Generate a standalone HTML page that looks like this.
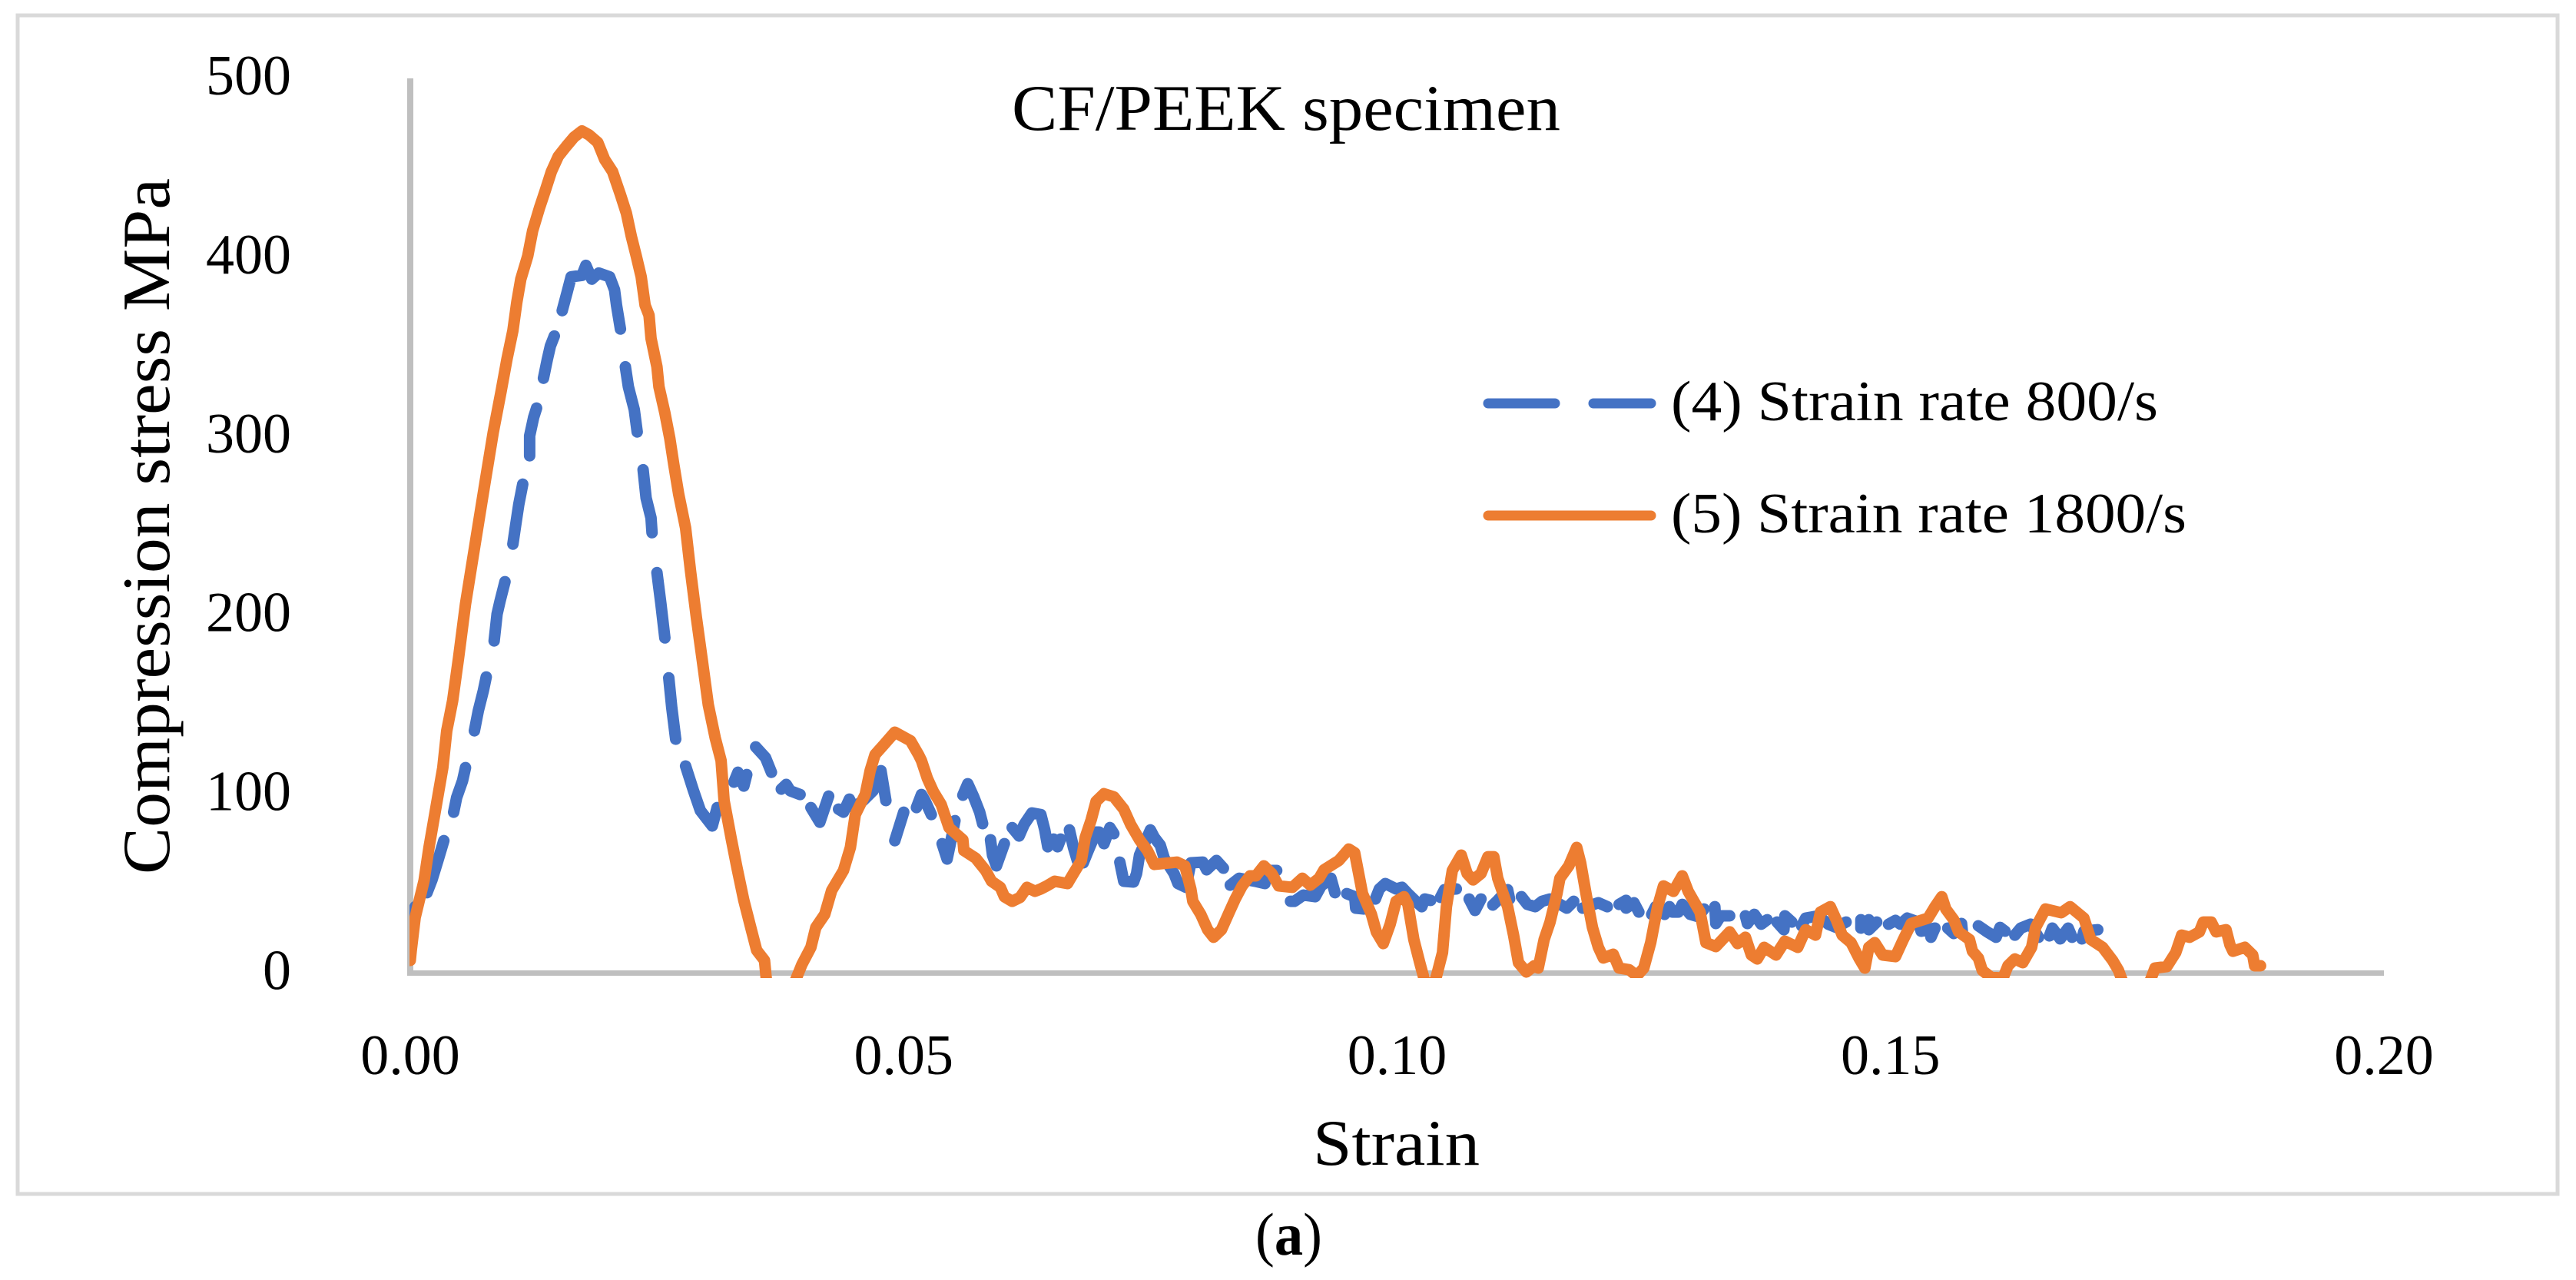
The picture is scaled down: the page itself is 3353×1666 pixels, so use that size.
<!DOCTYPE html>
<html lang="en">
<head>
<meta charset="utf-8">
<title>CF/PEEK specimen compression stress vs strain</title>
<style>
html,body{margin:0;padding:0;background:#fff}
svg{display:block}
text{font-family:"Liberation Serif",serif;fill:#000}
</style>
</head>
<body>
<svg id="chart" xmlns="http://www.w3.org/2000/svg" width="3353" height="1666" viewBox="0 0 3353 1666">
  <rect x="23" y="20" width="3306" height="1534" fill="#fff" stroke="#D9D9D9" stroke-width="5"/>
  <defs><clipPath id="plot-clip"><rect x="533" y="0" width="2700" height="1273"/></clipPath></defs>
  <g id="axes"></g>
  <g id="series" clip-path="url(#plot-clip)"></g>
  <text x="1317" y="169" font-size="85" textLength="714" lengthAdjust="spacingAndGlyphs">CF/PEEK specimen</text>
  <text transform="translate(220,1138) rotate(-90)" font-size="88" textLength="906" lengthAdjust="spacingAndGlyphs">Compression stress MPa</text>
  <text x="1709" y="1516" font-size="85" textLength="217" lengthAdjust="spacingAndGlyphs">Strain</text>
  <g>
    <line x1="1937" y1="525" x2="2149" y2="525" stroke="#4472C4" stroke-width="13" stroke-linecap="round" stroke-dasharray="87 50"/>
    <text x="2175" y="547" font-size="74" textLength="634" lengthAdjust="spacingAndGlyphs">(4) Strain rate 800/s</text>
    <line x1="1937" y1="671" x2="2149" y2="671" stroke="#ED7D31" stroke-width="13" stroke-linecap="round"/>
    <text x="2175" y="693" font-size="74" textLength="671" lengthAdjust="spacingAndGlyphs">(5) Strain rate 1800/s</text>
  </g>
  <text x="1634" y="1633" font-size="78" textLength="87" lengthAdjust="spacingAndGlyphs">(<tspan font-weight="bold">a</tspan>)</text>
</svg>
<script>
const xTicks = [0, 0.05, 0.10, 0.15, 0.20];
const xTickLabels = ["0.00", "0.05", "0.10", "0.15", "0.20"];
const yTicks = [0, 100, 200, 300, 400, 500];
const yTickLabels = ["0", "100", "200", "300", "400", "500"];

// (4) Strain rate 800/s — null entries mark the visible breaks of the dashed line
const strain800 = [0,.0005,null,.0017,.0022,.0028,.0034,null,.0044,.0047,.0053,.0056,null,.0065,.0069,.0074,.0077,null,.0085,.0088,.0091,.0096,null,.0104,.0107,.0110,.0114,null,.0121,.0121,.0125,.0128,null,.0135,.0139,.0142,.0146,null,.0154,.0159,.0163,.0174,.0178,.0184,.0191,.0202,.0207,.0209,.0213,null,.0218,.0221,.0227,.0230,null,.0236,.0239,.0244,.0245,null,.0250,.0254,.0258,null,.0262,.0265,.0269,null,.0279,.0287,.0294,.0306,.0311,null,.0328,.0332,.0338,.0341,null,.0350,.0360,.0366,null,.0376,.0381,.0385,.0395,null,.0406,.0415,.0424,null,.0434,.0439,.0445,.0449,.0459,.0469,.0477,.0482,null,.0491,.0500,null,.0513,.0518,.0522,.0528,null,.0539,.0544,.0547,.0552,null,.0560,.0565,.0571,.0577,.0580,null,.0588,.0590,.0594,.0602,null,.0610,.0617,.0622,.0630,.0639,.0643,.0646,.0652,.0656,.0659,null,.0668,.0672,.0676,.0682,.0687,.0695,.0698,.0703,.0709,.0713,null,.0719,.0723,.0733,.0736,.0739,.0750,.0754,.0760,.0764,.0774,.0778,.0786,.0791,.0803,.0807,.0817,.0824,null,.0831,.0840,.0856,.0866,.0869,.0878,null,.0892,.0896,.0905,.0917,.0923,.0933,.0937,null,.0949,.0957,.0958,.0966,null,.0978,.0982,.0988,.0999,.1005,.1011,.1019,.1025,.1028,.1034,null,.1044,.1048,.1060,null,.1073,.1079,.1085,null,.1097,.1102,.1112,.1114,null,.1126,.1132,.1140,.1147,.1155,.1172,.1179,null,.1188,.1204,.1213,null,.1225,.1232,.1232,.1240,.1245,null,.1258,.1262,.1271,.1276,.1279,.1285,.1289,.1297,.1305,.1311,null,.1322,.1323,.1328,.1337,null,.1353,.1355,.1362,.1369,.1375,null,.1385,.1392,.1393,.1400,null,.1410,.1414,.1427,.1437,.1445,.1455,null,.1470,.1470,.1478,.1478,.1486,null,.1498,.1505,.1510,.1517,.1528,.1531,.1545,.1541,null,.1558,.1564,.1572,.1573,null,.1589,.1598,.1607,.1611,.1616,null,.1626,.1632,.1642,.1650,null,.1661,.1664,.1672,.1680,.1684,null,.1694,.1696,.1710];
const stress800 = [31.1,37.1,null,44.9,52.1,62.9,74.0,null,89.9,98.1,107.5,114.8,null,135.4,146.6,157.7,165.5,null,185.6,200.6,207.9,218.7,null,239.7,250.9,262.0,273.2,null,289.1,300.2,310.5,315.7,null,332.4,343.1,350.4,356.0,null,370.2,380.5,389.1,389.9,395.5,387.8,391.2,389.1,381.8,373.2,359.9,null,338.8,327.7,314.8,302.4,null,281.3,265.5,254.3,246.1,null,223.8,206.2,187.3,null,165.0,148.3,130.7,null,115.7,101.9,90.8,82.2,92.5,null,106.7,112.2,104.5,110.9,null,126.4,120.4,112.2,null,102.8,105.4,101.9,99.8,null,92.5,84.3,98.9,null,91.6,89.9,97.2,92.5,96.4,101.9,113.1,96.4,null,74.0,89.9,null,92.5,99.8,95.9,88.6,null,72.3,63.7,71.5,85.2,null,99.4,105.8,98.5,89.9,83.5,null,74.5,65.9,59.9,72.3,null,81.3,76.6,83.0,89.5,88.6,80.0,70.6,74.9,70.6,74.9,null,80.0,70.2,62.9,61.6,68.5,78.8,78.8,72.3,81.3,77.9,null,62.0,51.3,50.9,55.6,65.9,80.0,75.8,71.5,64.2,55.6,50.0,47.9,61.6,62.0,57.7,62.9,58.6,null,49.1,53.0,51.3,50.0,57.3,57.3,null,40.1,40.1,43.6,42.7,48.7,53.0,44.9,null,44.4,42.7,36.3,35.8,null,41.4,47.0,50.0,47.0,47.9,44.4,40.1,37.1,41.4,40.6,null,42.3,46.6,47.0,null,41.4,35.0,41.4,null,38.0,40.6,46.6,41.4,null,42.7,38.4,37.1,40.1,41.4,36.3,40.1,null,36.3,39.3,37.1,null,38.4,40.6,36.3,39.3,34.1,null,32.8,37.1,32.8,37.1,34.1,34.1,38.4,32.8,31.5,35.8,null,37.1,27.7,32.0,32.0,null,32.0,27.7,32.8,27.3,29.8,null,28.5,24.2,32.0,28.5,null,26.4,30.7,32.0,27.3,25.5,28.5,null,29.8,25.1,29.8,24.2,28.5,null,27.3,29.4,27.3,30.7,28.5,23.4,25.1,20.0,null,25.1,22.1,27.7,22.1,null,26.4,23.0,20.0,25.5,23.4,null,21.2,25.1,27.3,20.0,null,20.8,25.1,19.1,25.1,20.0,null,19.1,23.4,24.2];

// (5) Strain rate 1800/s
const strain1800 = [0,.0001,.0005,.0014,.0019,.0026,.0033,.0037,.0043,.0049,.0056,.0063,.0069,.0076,.0084,.0092,.0098,.0104,.0108,.0112,.0119,.0124,.0131,.0137,.0143,.0150,.0158,.0166,.0174,.0181,.0190,.0197,.0205,.0213,.0219,.0224,.0229,.0234,.0238,.0242,.0244,.0250,.0252,.0258,.0263,.0267,.0272,.0279,.0284,.0290,.0296,.0302,.0309,.0315,.0318,.0325,.0331,.0338,.0345,.0351,.0359,.0361,.0374,.0390,.0397,.0406,.0411,.0420,.0427,.0439,.0446,.0451,.0461,.0466,.0471,.0480,.0491,.0507,.0515,.0518,.0524,.0530,.0538,.0546,.0560,.0561,.0573,.0583,.0589,.0598,.0602,.0610,.0618,.0625,.0633,.0639,.0645,.0653,.0666,.0672,.0680,.0684,.0690,.0695,.0703,.0713,.0723,.0730,.0739,.0747,.0754,.0777,.0785,.0791,.0793,.0801,.0808,.0814,.0822,.0830,.0836,.0843,.0851,.0857,.0865,.0873,.0880,.0894,.0904,.0912,.0921,.0926,.0941,.0951,.0957,.0965,.0974,.0979,.0986,.0993,.0999,.1007,.1011,.1017,.1023,.1028,.1034,.1040,.1046,.1050,.1056,.1065,.1071,.1077,.1085,.1092,.1098,.1102,.1112,.1118,.1123,.1131,.1139,.1143,.1149,.1155,.1162,.1165,.1174,.1182,.1186,.1192,.1198,.1204,.1209,.1219,.1225,.1235,.1243,.1250,.1257,.1264,.1270,.1280,.1289,.1295,.1307,.1313,.1323,.1337,.1345,.1353,.1359,.1365,.1372,.1384,.1393,.1406,.1414,.1424,.1429,.1439,.1445,.1451,.1460,.1468,.1474,.1478,.1484,.1492,.1505,.1513,.1521,.1538,.1545,.1552,.1556,.1564,.1569,.1580,.1583,.1589,.1593,.1602,.1614,.1619,.1626,.1634,.1643,.1647,.1657,.1673,.1682,.1696,.1703,.1715,.1725,.1731,.1735,.1749,.1763,.1768,.1780,.1789,.1795,.1803,.1813,.1817,.1825,.1830,.1840,.1844,.1847,.1859,.1867,.1869,.1875];
const stress1800 = [7.1,12.7,31.1,51.7,70.2,92.5,114.8,135.4,152.2,176.2,206.2,230.3,250.9,274.9,301.9,325.0,343.1,359.0,374.9,387.8,400.7,414.8,427.7,437.6,447.9,456.4,462.0,467.2,470.6,468.5,464.2,454.7,447.9,435.0,424.7,411.8,400.7,389.1,373.2,367.6,354.7,338.8,327.7,313.1,298.9,284.3,267.6,248.7,224.7,198.5,174.5,150.0,131.5,118.7,96.4,75.8,59.0,40.6,25.5,12.7,7.1,-4.5,-14.4,-4.5,4.9,14.4,25.5,32.8,46.1,57.3,70.2,88.6,99.8,113.1,122.1,127.7,134.6,129.8,122.1,118.7,108.8,101.5,94.2,81.3,74.5,68.5,64.2,57.3,51.3,47.9,42.7,40.1,42.3,47.9,45.7,47.0,48.7,51.3,50.0,55.6,62.9,75.8,85.6,95.9,100.2,98.5,91.6,83.0,74.5,68.5,60.7,62.0,59.9,47.0,40.1,32.8,24.2,20.0,24.2,34.1,41.4,48.7,54.3,54.3,59.9,55.6,48.7,47.9,53.0,49.1,53.0,57.7,62.9,69.3,67.2,44.4,32.8,23.0,16.5,27.3,40.1,42.7,38.4,18.7,5.8,-4.5,-10.1,-1.5,11.4,37.1,57.3,65.9,55.6,52.1,55.6,65.0,65.0,53.0,37.1,21.2,5.8,0.6,4.1,2.8,18.7,28.5,44.4,53.0,59.9,70.2,61.6,42.7,25.5,14.4,8.4,10.5,2.8,1.9,-1.5,2.8,17.0,37.1,48.7,45.7,54.3,45.7,34.1,17.0,14.8,23.0,16.5,20.0,10.1,7.9,14.4,10.1,17.8,14.4,24.2,21.2,34.1,37.1,29.8,21.2,17.0,8.4,2.8,14.4,17.0,10.1,9.2,18.7,27.7,30.7,37.1,42.7,35.8,29.8,23.0,18.7,12.2,8.4,1.5,-2.4,-2.8,4.1,7.9,5.8,14.4,25.5,35.8,33.7,37.1,30.7,18.7,14.4,7.1,1.5,-4.5,-14.4,-4.5,2.8,3.6,11.4,21.2,20.0,23.0,28.5,28.5,23.0,24.2,15.7,12.2,14.4,10.1,4.1,4.1];

const SVG_NS = "http://www.w3.org/2000/svg";
const xAt = v => 534 + v * (3103 - 534) / 0.2;
const yAt = v => 1266.5 - v * (1266.5 - 102) / 500;

function linePath(xs, ys) {
  let d = "", pen = false;
  for (let i = 0; i < xs.length; i++) {
    if (xs[i] === null || ys[i] === null) { pen = false; continue; }
    d += (pen ? "L" : "M") + xAt(xs[i]).toFixed(1) + " " + yAt(ys[i]).toFixed(1);
    pen = true;
  }
  return d;
}

const axes = document.getElementById("axes");
const series = document.getElementById("series");

const yAxisLine = document.createElementNS(SVG_NS, "line");


yAxisLine.setAttribute("x1", xAt(0));
yAxisLine.setAttribute("x2", xAt(0));
yAxisLine.setAttribute("y1", yAt(500));
yAxisLine.setAttribute("y2", yAt(0) + 3.5);
yAxisLine.setAttribute("stroke", "#BFBFBF");
yAxisLine.setAttribute("stroke-width", "8");
axes.appendChild(yAxisLine);

const xAxisLine = document.createElementNS(SVG_NS, "line");


xAxisLine.setAttribute("x1", xAt(0) - 4);
xAxisLine.setAttribute("x2", xAt(0.2));
xAxisLine.setAttribute("y1", yAt(0));
xAxisLine.setAttribute("y2", yAt(0));
xAxisLine.setAttribute("stroke", "#BFBFBF");
xAxisLine.setAttribute("stroke-width", "7");
axes.appendChild(xAxisLine);

yTicks.forEach((v, i) => {
  const t = document.createElementNS(SVG_NS, "text");
  
  
  t.setAttribute("x", 379);
  t.setAttribute("y", yAt(v) + 21);
  t.setAttribute("text-anchor", "end");
  t.setAttribute("font-size", "74");
  t.textContent = yTickLabels[i];
  axes.appendChild(t);
});

xTicks.forEach((v, i) => {
  const t = document.createElementNS(SVG_NS, "text");
  
  
  t.setAttribute("x", xAt(v));
  t.setAttribute("y", 1398);
  t.setAttribute("text-anchor", "middle");
  t.setAttribute("font-size", "74");
  t.textContent = xTickLabels[i];
  axes.appendChild(t);
});

const line800 = document.createElementNS(SVG_NS, "path");


line800.setAttribute("d", linePath(strain800, stress800));
line800.setAttribute("fill", "none");
line800.setAttribute("stroke", "#4472C4");
line800.setAttribute("stroke-width", "15");
line800.setAttribute("stroke-linecap", "round");
line800.setAttribute("stroke-linejoin", "round");
series.appendChild(line800);

const line1800 = document.createElementNS(SVG_NS, "path");


line1800.setAttribute("d", linePath(strain1800, stress1800));
line1800.setAttribute("fill", "none");
line1800.setAttribute("stroke", "#ED7D31");
line1800.setAttribute("stroke-width", "15");
line1800.setAttribute("stroke-linecap", "round");
line1800.setAttribute("stroke-linejoin", "round");
series.appendChild(line1800);
</script>
</body>
</html>
